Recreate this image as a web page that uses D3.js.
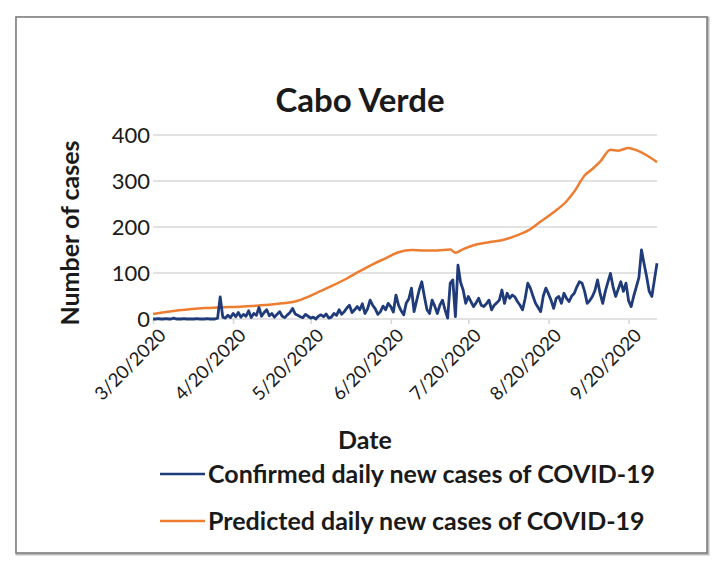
<!DOCTYPE html>
<html>
<head>
<meta charset="utf-8">
<script src="https://cdn.jsdelivr.net/npm/d3@7"></script>
<style>
  html, body { margin: 0; padding: 0; background: #fff; }
  svg { display: block; }
  text { font-family: Lato, "Open Sans", sans-serif; fill: #1a1a1a; }
</style>
</head>
<body>
<svg id="chart" width="715" height="569"></svg>
<script>
// ---------- data ----------
const title = "Cabo Verde";
const startDate = "2020-03-20";
const endDate = "2020-10-01";
const yTicks = [0, 100, 200, 300, 400];
const xTickLabels = ["3/20/2020", "4/20/2020", "5/20/2020", "6/20/2020", "7/20/2020", "8/20/2020", "9/20/2020"];
const seriesNames = ["Confirmed daily new cases of COVID-19", "Predicted daily new cases of COVID-19"];

// Confirmed: one value per day from 3/20/2020
const confirmed = [
  0,0,1,0,0,1,0,0,2,0, 0,0,1,0,0,0,0,1,0,0, 0,1,0,0,0,2,48,4,2,8,
  3,12,5,14,4,10,6,18,3,12, 8,25,6,14,20,7,12,4,10,16, 6,3,9,14,23,11,8,5,3,10,
  6,2,4,0,6,9,5,11,2,4, 12,8,20,10,16,24,30,14,20,27, 20,33,12,22,41,30,22,10,16,28,
  20,34,27,15,52,30,18,9,35,44, 67,16,40,63,81,49,20,12,41,28, 12,30,41,20,2,78,85,5,117,80,
  63,34,49,38,27,35,45,30,27,33, 41,20,30,35,41,63,34,56,45,52, 48,38,30,20,45,78,67,50,34,25,
  16,50,67,55,41,23,45,49,34,56, 45,38,50,56,70,81,78,60,34,40, 49,62,85,55,34,60,80,99,70,49,
  65,81,60,78,40,27,50,70,90,150, 120,92,60,49,85,121
];

// Predicted: [day offset from 3/20/2020, value]
const predictedDays = [0,5,10,15,20,25,30,35,40,45,50,55,60,65,70,75,80,85,90,95,100,105,110,115,117,120,125,130,135,140,145,150,155,160,163,167,170,173,177,180,184,187,191,195];
const predictedVals = [11,15,19,22,24,25,26,27,29,31,34,38,48,61,74,88,104,119,132,145,150,149,149,151,144,152,162,167,171,180,192,212,232,256,277,312,326,342,368,366,372,367,356,341];

// ---------- drawing ----------
const svg = d3.select("#chart");
const parse = d3.timeParse("%Y-%m-%d");
const t0 = parse(startDate), t1 = parse(endDate);
const dayOf = i => d3.timeDay.offset(t0, i);

const M = { left: 153, right: 657, top: 135, bottom: 319 };
const x = d3.scaleTime().domain([t0, t1]).range([M.left, M.right]);
const y = d3.scaleLinear().domain([0, 400]).range([M.bottom, M.top]);

// outer frame
svg.append("rect").attr("x", 17).attr("y", 18).attr("width", 691).attr("height", 536)
  .attr("fill", "none").attr("stroke", "#bdbdbd").attr("stroke-width", 3);
svg.append("rect").attr("x", 16).attr("y", 17).attr("width", 691).attr("height", 536)
  .attr("fill", "#fff").attr("stroke", "#7f7f7f").attr("stroke-width", 1.6);

// title
svg.append("text").attr("x", 360).attr("y", 112).attr("text-anchor", "middle")
  .attr("font-size", 33).attr("font-weight", 700).text(title);

// gridlines
svg.append("g").selectAll("line").data(yTicks.filter(v => v > 0)).join("line")
  .attr("x1", M.left).attr("x2", M.right)
  .attr("y1", d => y(d)).attr("y2", d => y(d))
  .attr("stroke", "#d9d9d9").attr("stroke-width", 1.6);

// y axis labels
const yAxis = d3.axisLeft(y).tickValues(yTicks).tickSize(0).tickPadding(3);
const gy = svg.append("g").attr("transform", `translate(${M.left},0)`).call(yAxis);
gy.select(".domain").remove();
gy.selectAll("text").attr("font-size", 22).attr("fill", "#262626")
  .style("font-family", "Lato, sans-serif");

// x axis
const tickDates = xTickLabels.map(s => d3.timeParse("%m/%d/%Y")(s));
const xAxis = d3.axisBottom(x).tickValues(tickDates).tickSize(5).tickPadding(4)
  .tickFormat((d, i) => xTickLabels[i]);
const gx = svg.append("g").attr("transform", `translate(0,${M.bottom})`).call(xAxis);
gx.select(".domain").attr("stroke", "#d9d9d9").attr("stroke-width", 1.6)
  .attr("d", `M${M.left},0H${M.right}`);
gx.selectAll(".tick line").attr("stroke", "#d9d9d9").attr("stroke-width", 1.6);
gx.selectAll("text").attr("font-size", 18.5).attr("fill", "#262626")
  .style("font-family", "Lato, sans-serif")
  .attr("text-anchor", "end").attr("dy", "0.35em")
  .attr("transform", "translate(9,13) rotate(-45)").attr("y", 0).attr("x", 0);

// lines
const line = d3.line().x(d => x(d[0])).y(d => y(d[1]));
const confData = confirmed.map((v, i) => [dayOf(i), v]);
const predData = predictedDays.map((dd, i) => [dayOf(dd), predictedVals[i]]);

svg.append("path").datum(predData).attr("d", line.curve(d3.curveMonotoneX))
  .attr("fill", "none").attr("stroke", "#ED7D31").attr("stroke-width", 2.5)
  .attr("stroke-linejoin", "round");
svg.append("path").datum(confData).attr("d", d3.line().x(d => x(d[0])).y(d => y(d[1])))
  .attr("fill", "none").attr("stroke", "#1F3B7A").attr("stroke-width", 2.8)
  .attr("stroke-linejoin", "round");

// axis titles
svg.append("text").attr("transform", `translate(79,${(M.top + M.bottom) / 2 + 6}) rotate(-90)`)
  .attr("text-anchor", "middle").attr("font-size", 25).attr("font-weight", 700)
  .text("Number of cases");
svg.append("text").attr("x", 365).attr("y", 449).attr("text-anchor", "middle")
  .attr("font-size", 25).attr("font-weight", 700).text("Date");

// legend
const legColors = ["#1F3B7A", "#ED7D31"];
const leg = svg.append("g").selectAll("g").data(seriesNames).join("g")
  .attr("transform", (d, i) => `translate(160,${474 + i * 47})`);
leg.append("line").attr("x1", 0).attr("x2", 45).attr("y1", 0).attr("y2", 0)
  .attr("stroke", (d, i) => legColors[i]).attr("stroke-width", 2.5);
leg.append("text").attr("x", 48).attr("y", 0).attr("dy", "0.35em")
  .attr("font-size", 25).attr("font-weight", 700).text(d => d);
</script>
</body>
</html>
